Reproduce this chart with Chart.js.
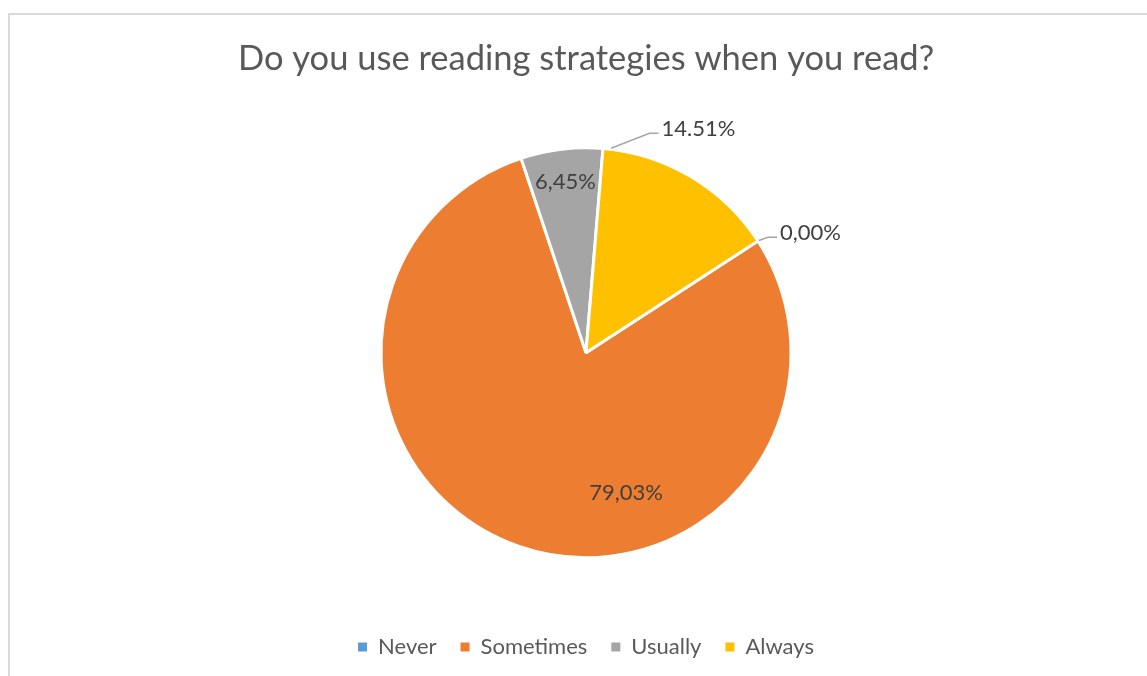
<!DOCTYPE html>
<html>
<head>
<meta charset="utf-8">
<script src="https://cdn.jsdelivr.net/npm/chart.js@4.4.1/dist/chart.umd.min.js"></script>
<style>
  body { margin: 0; overflow: hidden; background: #fff; }
  #frame { position: absolute; left: 8px; top: 13px; width: 1200px; height: 700px; border: 2px solid #d9d9d9; }
  #chart { position: absolute; left: 0; top: 0; }
</style>
</head>
<body>
<div id="frame"></div>
<canvas id="chart" width="1147" height="676"></canvas>
<script>
const categories = ['Never', 'Sometimes', 'Usually', 'Always'];
const percents = [0, 79.03, 6.45, 14.51];
const decimalMarks = [',', ',', ',', '.'];
const sliceColors = ['#5B9BD5', '#ED7D31', '#A5A5A5', '#FFC000'];

// label spots: angle clockwise from 12 o'clock (deg, null = middle of slice),
// distance from centre in radii, optional leader line to the rim
const labelSpots = [
	{ angle: 62, dist: 1.24, anchor: 57 },
	{ angle: 164, dist: 0.71 },
	{ angle: null, dist: 0.84 },
	{ angle: 26.7, dist: 1.22, anchor: 7 },
];

const toRad = (deg) => (deg - 90) * Math.PI / 180;

// draws the percentage next to each slice
const valueLabels = {
	id: 'valueLabels',
	afterDatasetsDraw(chart) {
		const ctx = chart.ctx;
		const meta = chart.getDatasetMeta(0);
		ctx.save();
		ctx.font = '22px Lato, "Liberation Sans", sans-serif';
		ctx.textAlign = 'center';
		ctx.textBaseline = 'middle';
		meta.data.forEach((arc, i) => {
			const { x, y, startAngle, endAngle, outerRadius } = arc.getProps(
				['x', 'y', 'startAngle', 'endAngle', 'outerRadius'], true);
			const spot = labelSpots[i];
			const a = spot.angle === null ? (startAngle + endAngle) / 2 : toRad(spot.angle);
			const lx = x + Math.cos(a) * outerRadius * spot.dist;
			const ly = y + Math.sin(a) * outerRadius * spot.dist;
			const text = percents[i].toFixed(2).replace('.', decimalMarks[i]) + '%';
			const w = ctx.measureText(text).width;

			if (spot.anchor !== undefined) {
				const b = toRad(spot.anchor);
				const ax = x + Math.cos(b) * (outerRadius + 1);
				const ay = y + Math.sin(b) * (outerRadius + 1);
				const ex = lx - w / 2 - 3;
				ctx.strokeStyle = '#a6a6a6';
				ctx.lineWidth = 1.5;
				ctx.beginPath();
				ctx.moveTo(ax, ay);
				ctx.lineTo(ex - 9, ly + 4);
				ctx.lineTo(ex, ly + 4);
				ctx.stroke();
			}
			ctx.fillStyle = '#404040';
			ctx.fillText(text, lx, ly);
		});
		ctx.restore();
	},
};

new Chart(document.getElementById('chart'), {
	type: 'pie',
	data: {
		labels: categories,
		datasets: [
			{
				data: percents,
				backgroundColor: sliceColors,
				borderColor: '#ffffff',
				borderWidth: 3,
				radius: 205,
			},
		],
	},
	options: {
		responsive: false,
		animation: false,
		rotation: 57,
		layout: { padding: { left: 25, bottom: 8 } },
		plugins: {
			title: {
				display: true,
				text: 'Do you use reading strategies when you read?',
				color: '#595959',
				font: { family: 'Lato, "Liberation Sans", sans-serif', size: 34.5, weight: 'normal' },
				padding: { top: 38, bottom: 14 },
			},
			legend: {
				position: 'bottom',
				labels: {
					boxWidth: 9,
					boxHeight: 9,
					padding: 24,
					color: '#595959',
					font: { family: 'Lato, "Liberation Sans", sans-serif', size: 22 },
					generateLabels: (chart) =>
						Chart.overrides.pie.plugins.legend.labels.generateLabels(chart)
							.map((item) => ({ ...item, lineWidth: 0, strokeStyle: item.fillStyle })),
				},
			},
			tooltip: { enabled: false },
		},
	},
	plugins: [valueLabels],
});
</script>
</body>
</html>
